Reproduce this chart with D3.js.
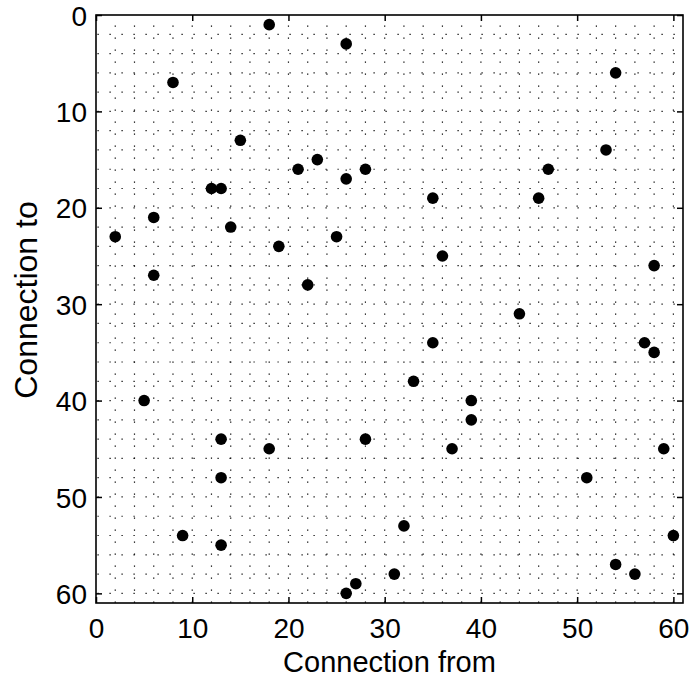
<!DOCTYPE html>
<html>
<head>
<meta charset="utf-8">
<script src="https://cdn.jsdelivr.net/npm/d3@7/dist/d3.min.js"></script>
<style>
  html, body { margin: 0; padding: 0; background: #fff; }
  svg { display: block; }
  text { font-family: "Liberation Sans", Arial, Helvetica, sans-serif; fill: #000; }
</style>
</head>
<body>
<svg id="chart" width="690" height="677"></svg>
<script>
// Data: connection (from, to) pairs
const fromValues = [18, 26, 54, 8, 15, 53, 23, 21, 28, 47, 26, 12, 13, 35, 46, 6, 14, 2, 25, 19, 36, 58, 6, 22, 44, 35, 57, 58, 33, 5, 39, 39, 13, 28, 37, 18, 59, 13, 51, 32, 9, 60, 13, 54, 31, 56, 27, 26];
const toValues   = [1, 3, 6, 7, 13, 14, 15, 16, 16, 16, 17, 18, 18, 19, 19, 21, 22, 23, 23, 24, 25, 26, 27, 28, 31, 34, 34, 35, 38, 40, 40, 42, 44, 44, 45, 45, 45, 48, 48, 53, 54, 54, 55, 57, 58, 58, 59, 60];
const xTicks = [0, 10, 20, 30, 40, 50, 60];
const yTicks = [0, 10, 20, 30, 40, 50, 60];
const gridValues = [2, 4, 6, 8, 10, 12, 14, 16, 18, 20, 22, 24, 26, 28, 30, 32, 34, 36, 38, 40, 42, 44, 46, 48, 50, 52, 54, 56, 58, 60];
const xDomain = [0, 61];
const yDomain = [0, 61];
const xLabel = "Connection from";
const yLabel = "Connection to";

const svg = d3.select("#chart");
const L = 96, R = 683, T = 15, B = 603;

const x = d3.scaleLinear().domain(xDomain).range([L, R]);
const y = d3.scaleLinear().domain(yDomain).range([T, B]);

// dotted grid
const grid = svg.append("g").attr("stroke", "#000").attr("stroke-width", 1.2)
  .attr("stroke-dasharray", "1.2,10.8");
grid.selectAll("line.v").data(gridValues).join("line").attr("class", "v")
  .attr("x1", d => x(d)).attr("x2", d => x(d))
  .attr("y1", T + 10.5).attr("y2", B);
grid.selectAll("line.h").data(gridValues).join("line").attr("class", "h")
  .attr("y1", d => y(d)).attr("y2", d => y(d))
  .attr("x1", L + 1.5).attr("x2", R);

// axes (ticks inward on all four sides)
const fs = 28;
const bottomAxis = d3.axisBottom(x).tickValues(xTicks).tickSize(-6).tickPadding(0).tickFormat(d3.format("d"));
const topAxis = d3.axisTop(x).tickValues(xTicks).tickSize(-6).tickFormat("");
const leftAxis = d3.axisLeft(y).tickValues(yTicks).tickSize(-6).tickPadding(0).tickFormat(d3.format("d"));
const rightAxis = d3.axisRight(y).tickValues(yTicks).tickSize(-6).tickFormat("");

function styleAxis(g) {
  g.select(".domain").remove();
  g.selectAll(".tick line").attr("stroke", "#000").attr("stroke-width", 1.5);
  g.selectAll("text").attr("font-size", fs).attr("fill", "#000")
    .style("font-family", '"Liberation Sans", Arial, Helvetica, sans-serif');
}

const gb = svg.append("g").attr("transform", `translate(0,${B})`).call(bottomAxis).call(styleAxis);
gb.selectAll(".tick text").attr("y", 35).attr("dy", 0);
const gt = svg.append("g").attr("transform", `translate(0,${T})`).call(topAxis).call(styleAxis);
const gl = svg.append("g").attr("transform", `translate(${L},0)`).call(leftAxis).call(styleAxis);
gl.selectAll(".tick text").attr("x", -9).attr("dy", "0.36em");
const gr = svg.append("g").attr("transform", `translate(${R},0)`).call(rightAxis).call(styleAxis);

// box
svg.append("rect").attr("x", L).attr("y", T).attr("width", R - L).attr("height", B - T)
  .attr("fill", "none").attr("stroke", "#000").attr("stroke-width", 1.6);

// points
const pts = fromValues.map((f, i) => ({ f, t: toValues[i] }));
svg.append("g").selectAll("circle").data(pts).join("circle")
  .attr("cx", d => x(d.f)).attr("cy", d => y(d.t)).attr("r", 5.8)
  .attr("fill", "#000");

// axis labels
svg.append("text").attr("x", (L + R) / 2).attr("y", 672)
  .attr("text-anchor", "middle").attr("font-size", 29).text(xLabel);
svg.append("text").attr("transform", `translate(37,300) rotate(-90)`)
  .attr("text-anchor", "middle").attr("font-size", 32).text(yLabel);
</script>
</body>
</html>
